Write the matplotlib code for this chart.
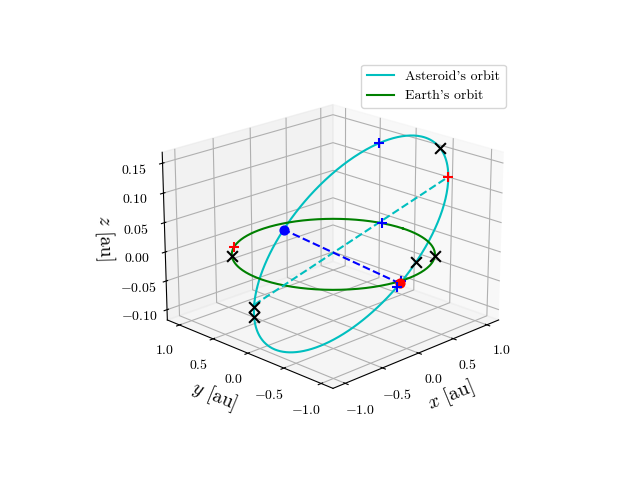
import numpy as np
import matplotlib
matplotlib.use('Agg')
import matplotlib.pyplot as plt

plt.rcParams['font.family'] = 'serif'
plt.rcParams['font.serif'] = ['cmr10']
plt.rcParams['mathtext.fontset'] = 'cm'
plt.rcParams['axes.formatter.use_mathtext'] = True

# asteroid orbital elements
a_ast = 0.96
e_ast = 0.17
inc = np.radians(8.8)
node = np.radians(262.0)
argp = np.radians(230.0)

# marker positions: true anomalies on the asteroid orbit, angles on Earth's orbit [deg]
ast_plus = [245.0, 128.0]             # blue + on asteroid orbit
earth_plus_b = [15.0, -95.0]          # blue + on Earth orbit
earth_plus_r = [125.0]                # red + on Earth orbit
ast_cross = [200.0, 140.0, 2.0, 10.0]  # black x on asteroid orbit
earth_cross = [-50.0, 140.0]          # black x on Earth orbit


def ast_pos(nu):
    nu = np.radians(np.asarray(nu, dtype=float))
    r = a_ast * (1 - e_ast**2) / (1 + e_ast * np.cos(nu))
    u = argp + nu
    x = r * (np.cos(node) * np.cos(u) - np.sin(node) * np.sin(u) * np.cos(inc))
    y = r * (np.sin(node) * np.cos(u) + np.cos(node) * np.sin(u) * np.cos(inc))
    z = r * np.sin(u) * np.sin(inc)
    return x, y, z


def earth_pos(th):
    th = np.radians(np.asarray(th, dtype=float))
    return np.cos(th), np.sin(th), np.zeros_like(th)


fig = plt.figure(figsize=(6.4, 4.8))
ax = fig.add_subplot(projection='3d')

nu = np.linspace(0, 360, 400)
ax.plot(*ast_pos(nu), color='c', label="Asteroid's orbit")
ax.plot(*earth_pos(nu), color='g', label="Earth's orbit")

# line of apsides
px, py, pz = ast_pos([0.0, 180.0])
ax.plot(px, py, pz, 'c--')
# line of nodes
nx, ny, nz = ast_pos([-np.degrees(argp), 180 - np.degrees(argp)])
ax.plot(nx, ny, nz, 'b--')
ax.scatter(nx[1], ny[1], nz[1], color='b', s=40, depthshade=False)
ax.scatter(nx[0], ny[0], nz[0], color='r', s=40, depthshade=False)

ax.scatter(*ast_pos(ast_plus), marker='+', color='b', s=60, depthshade=False)
ax.scatter(*earth_pos(earth_plus_b), marker='+', color='b', s=60, depthshade=False)
ax.scatter(*ast_pos([180.0]), marker='+', color='r', s=60, depthshade=False)
ax.scatter(*earth_pos(earth_plus_r), marker='+', color='r', s=60, depthshade=False)
ax.scatter(*ast_pos(ast_cross), marker='x', color='k', s=60, depthshade=False)
ax.scatter(*earth_pos(earth_cross), marker='x', color='k', s=60, depthshade=False)

ax.set_xlabel(r'$x$ [au]', fontsize=14)
ax.set_ylabel(r'$y$ [au]', fontsize=14)
ax.set_zlabel(r'$z$ [au]', fontsize=14)
ax.set_xlim(-1.16, 1.18)
ax.set_ylim(-1.155, 1.185)
ax.set_zlim(-0.118, 0.168)
ax.set_xticks([-1.0, -0.5, 0.0, 0.5, 1.0])
ax.set_yticks([-1.0, -0.5, 0.0, 0.5, 1.0])
ax.set_zticks([-0.10, -0.05, 0.0, 0.05, 0.10, 0.15])
ax.view_init(elev=20, azim=-135)
ax.legend(loc='upper right')

fig.savefig('out.png', dpi=100)
